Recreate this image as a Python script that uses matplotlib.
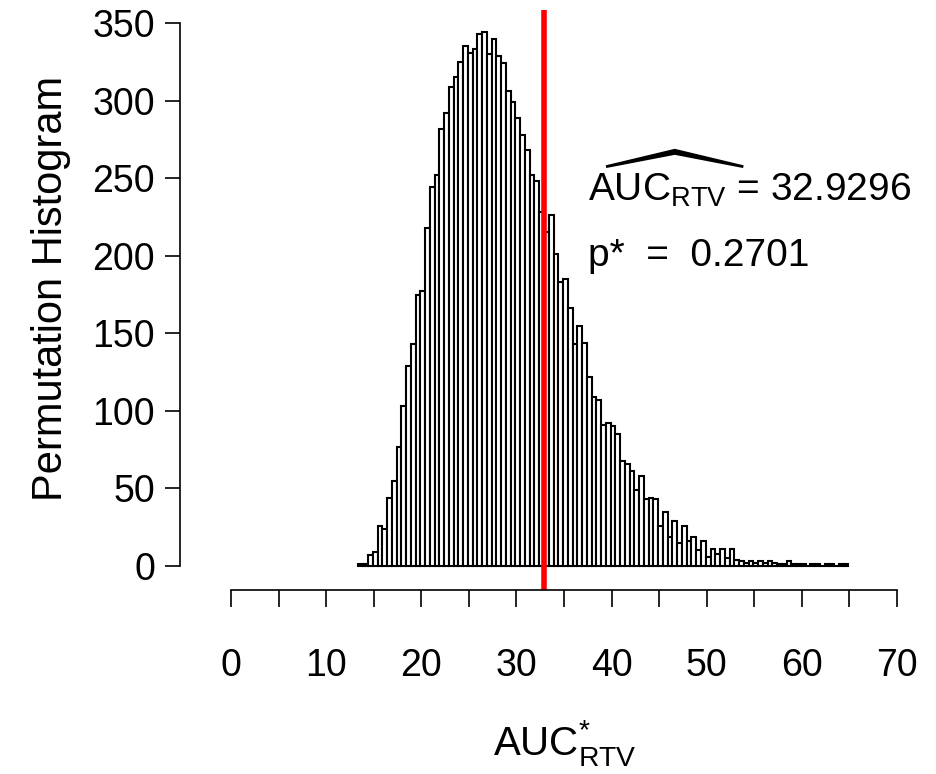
import matplotlib
matplotlib.use("Agg")
import matplotlib.pyplot as plt
import numpy as np

# histogram of permuted AUC_RTV values, bins of width 0.5 starting at 13.4
BIN_START = 13.4
BIN_WIDTH = 0.5
counts = [1, 1, 7, 9, 26, 24, 44, 55, 77, 103,
          129, 143, 175, 177, 218, 244, 252, 282, 292, 309,
          315, 325, 335, 331, 333, 343, 344, 330, 340, 329,
          324, 306, 299, 289, 278, 268, 252, 248, 228, 215,
          226, 201, 183, 185, 166, 143, 155, 144, 122, 109,
          107, 91, 92, 90, 85, 68, 66, 61, 49, 58,
          43, 44, 43, 26, 35, 19, 29, 15, 26, 16,
          19, 10, 16, 6, 11, 8, 11, 5, 11, 4,
          3, 2, 3, 2, 3, 2, 3, 2, 1, 1,
          3, 1, 1, 1, 0, 1, 1, 0, 1, 1,
          0, 1, 1]
observed_auc = 32.9296
p_value = 0.2701
xticks = [0, 10, 20, 30, 40, 50, 60, 70]
minor_xticks = [5, 15, 25, 35, 45, 55, 65]
yticks = [0, 50, 100, 150, 200, 250, 300, 350]

plt.rcParams["font.family"] = ["Liberation Sans", "DejaVu Sans"]
plt.rcParams["mathtext.fontset"] = "custom"
plt.rcParams["mathtext.rm"] = "Liberation Sans"
plt.rcParams["mathtext.it"] = "Liberation Sans:italic"

W, H = 936, 774
fig = plt.figure(figsize=(W / 100, H / 100), dpi=100)
# plot region in pixels: left 180, right 920, top 10, bottom 590
ax = fig.add_axes([180 / W, (H - 590) / H, 740 / W, 580 / H])

left_edges = BIN_START + BIN_WIDTH * np.arange(len(counts))
ax.bar(left_edges, counts, width=BIN_WIDTH, align="edge", facecolor="white",
       edgecolor="black", linewidth=1.5)
ax.axvline(observed_auc, color="red", linewidth=4)

ax.set_xlim(-5.36, 72.42)
ax.set_ylim(-15.47, 358.4)

for s in ["top", "right"]:
    ax.spines[s].set_visible(False)
ax.spines["left"].set_bounds(0, 350)
ax.spines["bottom"].set_bounds(0, 70)
ax.spines["left"].set_linewidth(1.2)
ax.spines["bottom"].set_linewidth(1.2)

ax.set_xticks(xticks)
ax.set_xticks(minor_xticks, minor=True)
ax.set_yticks(yticks)
ax.tick_params(axis="x", which="both", length=12, width=1.2, labelsize=27, pad=30)
ax.tick_params(axis="y", length=11, width=1.2, labelsize=27, pad=7)

ax.set_ylabel("Permutation Histogram", fontsize=30)
ax.yaxis.set_label_coords(-0.147, 0.52)
ax.set_xlabel(r"$\mathrm{AUC}^{*}_{\mathrm{RTV}}$", fontsize=29)
ax.xaxis.set_label_coords((565 - 180) / 740, -0.22)

ax.text(37.5, 250, r"$\widehat{\mathrm{AUC}_{\mathrm{RTV}}}$" + f" = {observed_auc}",
        fontsize=28, ha="left", va="center")
ax.text(37.5, 200, f"p*  =  {p_value}", fontsize=28, ha="left", va="center")

fig.savefig("out.png", dpi=100)
